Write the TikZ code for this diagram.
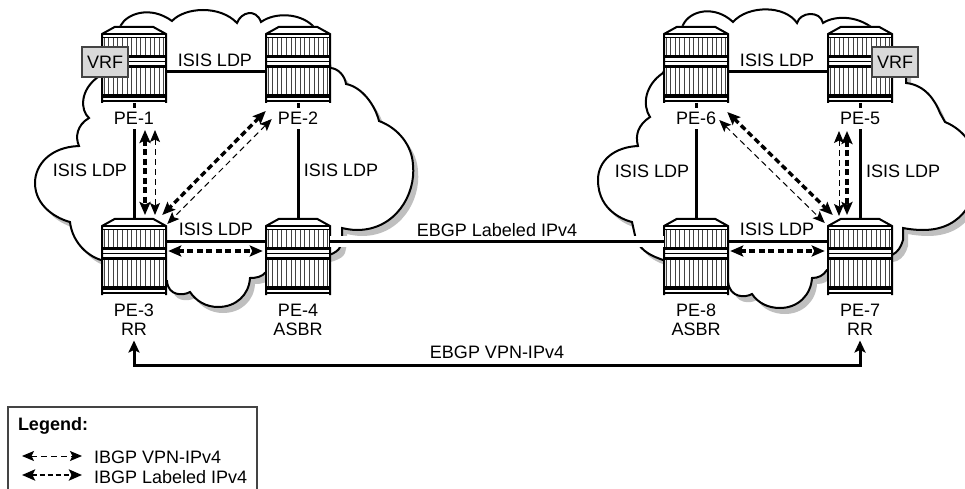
\documentclass[tikz,border=0pt]{standalone}
\usepackage{fontspec}
\setmainfont{Liberation Sans}
\usetikzlibrary{arrows.meta}
\newcommand{\pathleftcloud}{(121,25)
 .. controls (127,14) and (150,5) .. (172,21)
 .. controls (185,7) and (220,5) .. (237,23)
 .. controls (241,12) and (256,8) .. (261,22)
 .. controls (275,12) and (300,13) .. (313,26)
 -- (330,68)
 .. controls (338,68) and (345,76) .. (346,84)
 .. controls (362,87) and (375,105) .. (379,121)
 .. controls (398,128) and (412,145) .. (413,165)
 .. controls (416,195) and (395,230) .. (357,230)
 .. controls (352,230) and (346,229) .. (342,228)
 -- (342,238) -- (340,247)
 .. controls (339,250) and (335,253) .. (329,255)
 -- (266,272)
 .. controls (262,277) and (256,278) .. (250,278)
 .. controls (249,295) and (236,307) .. (218,307)
 .. controls (206,307) and (196,301) .. (190,292)
 .. controls (183,296) and (168,296) .. (167,281)
 -- (101,260)
 .. controls (85,255) and (72,240) .. (70,222)
 .. controls (58,219) and (35,207) .. (35,183)
 .. controls (35,165) and (50,147) .. (79,146)
 .. controls (75,137) and (77,125) .. (89,118)
 .. controls (80,110) and (80,90) .. (98,77)
 -- cycle}
\newcommand{\pathrightcloud}{(683,25)
 .. controls (690,10) and (715,5) .. (733,22)
 .. controls (748,5) and (785,5) .. (797,23)
 .. controls (800,12) and (820,10) .. (823,23)
 .. controls (835,15) and (860,15) .. (877,32)
 -- (906,70) -- (906,83)
 .. controls (925,85) and (935,100) .. (940,113)
 -- (945,122)
 .. controls (965,130) and (978,150) .. (978,170)
 .. controls (978,195) and (965,230) .. (923,230)
 .. controls (915,230) and (908,229) .. (903,228)
 -- (903,240)
 .. controls (901,247) and (898,252) .. (892,255)
 -- (827,270)
 .. controls (823,276) and (818,278) .. (812,278)
 .. controls (811,295) and (798,308) .. (780,308)
 .. controls (768,308) and (758,303) .. (752,294)
 .. controls (745,298) and (730,298) .. (728,282)
 -- (663,260)
 .. controls (652,256) and (642,252) .. (636,240)
 -- (632,222)
 .. controls (628,221) and (598,213) .. (598,180)
 .. controls (598,160) and (615,147) .. (638,146)
 .. controls (635,135) and (638,125) .. (650,117)
 .. controls (642,105) and (645,85) .. (663,73)
 -- cycle}
\definecolor{vrfgray}{HTML}{D9D9D9}
\definecolor{hatchgray}{HTML}{444444}
\tikzset{
  every node/.style={font=\fontsize{18}{19}\selectfont,inner sep=0pt,outer sep=0pt,align=center},
  cloudshape/.style={draw=black,line width=2pt,fill=white,line join=miter,
    preaction={fill=black!25,draw=none,transform canvas={xshift=5pt,yshift=-6pt}}},
  isislink/.style={draw=black,line width=3pt},
  ibgpthin/.style={draw=black,line width=1pt,dash pattern=on 6pt off 4pt,{Stealth[length=12pt,width=10pt,inset=2.5pt]}-{Stealth[length=12pt,width=10pt,inset=2.5pt]}},
  ibgpthick/.style={draw=black,line width=3.4pt,dash pattern=on 6pt off 3.5pt,{Stealth[length=13pt,width=11pt,inset=2.5pt]}-{Stealth[length=13pt,width=11pt,inset=2.5pt]}},
  ebgparrow/.style={draw=black,line width=3pt,{Stealth[length=12pt,width=11pt,inset=2.5pt]}-{Stealth[length=12pt,width=11pt,inset=2.5pt]}},
  pelabel/.style={fill=white,minimum height=21pt},
  pelabeltwo/.style={minimum height=42pt},
  vrfbox/.style={draw=hatchgray,line width=2.2pt,fill=vrfgray,minimum width=46pt,minimum height=30pt},
  legendbox/.style={draw=hatchgray,line width=1.4pt,minimum width=249pt,minimum height=93pt},
  router/.pic={
    \fill[white] (-32,8) -- (-19,0) -- (19,0) -- (32,8) -- (32,77) -- (-32,77) -- cycle;
    \foreach \hx in {-30,-25.4,...,30.5}{
      \draw[hatchgray,line width=0.8pt] (\hx,12) -- (\hx,29);
      \draw[hatchgray,line width=0.8pt] (\hx,41) -- (\hx,69);
    }
    \draw[line width=2pt,line join=miter] (-32,77) -- (-32,8) -- (-19,0.8) -- (19,0.8) -- (32,8) -- (32,77);
    \draw[line width=2pt] (-32,8) -- (32,8);
    \draw[line width=1.1pt] (-32,11.5) -- (32,11.5);
    \draw[line width=3.4pt] (-32,30.5) -- (32,30.5);
    \draw[line width=1.1pt] (-32,35.5) -- (32,35.5);
    \draw[line width=3.4pt] (-32,40.5) -- (32,40.5);
    \draw[line width=3.4pt] (-32,70) -- (32,70);
    \draw[line width=1.1pt] (-32,75) -- (32,75);
    \node[minimum width=64.5pt,minimum height=77pt] (-box) at (0,38.5) {};
  }
}
\begin{document}
\begin{tikzpicture}[x=1pt,y=-1pt]
\clip (0,0) rectangle (965,489);
% clouds
\path[cloudshape] \pathleftcloud;
\path[cloudshape] \pathrightcloud;
% routers
\pic (pe1) at (134,26) {router};
\pic (pe2) at (298,26) {router};
\pic (pe3) at (134,218) {router};
\pic (pe4) at (298,218) {router};
\pic (pe6) at (696,26) {router};
\pic (pe5) at (860,26) {router};
\pic (pe8) at (696,218) {router};
\pic (pe7) at (860,218) {router};
% links
\draw[isislink] ([yshift=-7.5pt]pe1-box.east) -- ([yshift=-7.5pt]pe2-box.west);
\draw[isislink] ([yshift=-7.5pt]pe6-box.east) -- ([yshift=-7.5pt]pe5-box.west);
\draw[isislink] ([yshift=15pt]pe3-box.east) -- ([yshift=15pt]pe4-box.west);
\draw[isislink] ([yshift=15pt]pe8-box.east) -- ([yshift=15pt]pe7-box.west);
\draw[isislink] (pe1-box.south) -- (pe3-box.north);
\draw[isislink] (pe2-box.south) -- (pe4-box.north);
\draw[isislink] (pe6-box.south) -- (pe8-box.north);
\draw[isislink] (pe5-box.south) -- (pe7-box.north);
\draw[draw=white,line width=11pt] ([yshift=15pt]pe4-box.east) -- ([yshift=15pt]pe8-box.west);
\draw[isislink] ([yshift=15pt]pe4-box.east) -- ([yshift=15pt]pe8-box.west);
% labels
\node[pelabel] (lab1) at (134,118.5) {PE-1};
\node[pelabel] (lab2) at (298,118.5) {PE-2};
\node[pelabel] (lab6) at (696,118.5) {PE-6};
\node[pelabel] (lab5) at (860,118.5) {PE-5};
\node[pelabeltwo] (lab3) at (134,319.5) {PE-3\\RR};
\node[pelabeltwo] (lab4) at (298,319.5) {PE-4\\ASBR};
\node[pelabeltwo] (lab8) at (696,319.5) {PE-8\\ASBR};
\node[pelabeltwo] (lab7) at (860,319.5) {PE-7\\RR};
\node (isis12) at (215,60) {ISIS LDP};
\node (isis13) at (90,170) {ISIS LDP};
\node (isis24) at (341,170) {ISIS LDP};
\node (isis34) at (216,229) {ISIS LDP};
\node (isis65) at (777,60) {ISIS LDP};
\node (isis68) at (652,171) {ISIS LDP};
\node (isis57) at (903,171) {ISIS LDP};
\node (isis87) at (777,229) {ISIS LDP};
\node (ebgplab) at (497,230) {EBGP Labeled IPv4};
\node (ebgpvpn) at (497,352) {EBGP VPN-IPv4};
% IBGP sessions
\draw[ibgpthick] ([shift={(11,27)}]pe1-box.south) -- ([shift={(11,-3)}]pe3-box.north);
\draw[ibgpthin] ([shift={(21,27)}]pe1-box.south) -- ([shift={(21,-3)}]pe3-box.north);
\draw[ibgpthick] ([shift={(0,8)}]pe2-box.south west) -- ([shift={(-4,-3)}]pe3-box.north east);
\draw[ibgpthin] ([shift={(6,16)}]pe2-box.south west) -- ([shift={(1,6)}]pe3-box.north east);
\draw[ibgpthick] ([shift={(2,-5.5)}]pe3-box.east) -- ([shift={(-3,-5.5)}]pe4-box.west);
\draw[ibgpthick] ([shift={(-13,28)}]pe5-box.south) -- ([shift={(-13,-3)}]pe7-box.north);
\draw[ibgpthin] ([shift={(-21,28)}]pe5-box.south) -- ([shift={(-21,-2)}]pe7-box.north);
\draw[ibgpthick] ([shift={(-1,9)}]pe6-box.south east) -- ([shift={(5,-3)}]pe7-box.north west);
\draw[ibgpthin] ([shift={(-9,17)}]pe6-box.south east) -- ([shift={(-3,5)}]pe7-box.north west);
\draw[ibgpthick] ([shift={(2,-5.5)}]pe8-box.east) -- ([shift={(-3,-5.5)}]pe7-box.west);
% EBGP VPN
\coordinate (vpnbus) at (497,365);
\draw[ebgparrow] (lab3.south) |- (vpnbus) -| (lab7.south);
% VRF
\node[vrfbox] (vrf1) at (105,62) {VRF};
\node[vrfbox] (vrf5) at (895,62) {VRF};
% legend
\node[legendbox] (legend) at (132.5,453.5) {};
\node[anchor=west,font=\fontsize{18}{19}\selectfont\bfseries] (legendtitle) at (18,426) {Legend:};
\coordinate (lega1) at (22,456);
\coordinate (lega2) at (82,456);
\coordinate (legb1) at (22,475);
\coordinate (legb2) at (82,475);
\draw[ibgpthin] (lega1) -- (lega2);
\draw[ibgpthick,line width=2.8pt,dash pattern=on 5pt off 3pt] (legb1) -- (legb2);
\node[anchor=west] (legvpn) at (94,457) {IBGP VPN-IPv4};
\node[anchor=west] (leglab) at (94,477) {IBGP Labeled IPv4};
\end{tikzpicture}
\end{document}
